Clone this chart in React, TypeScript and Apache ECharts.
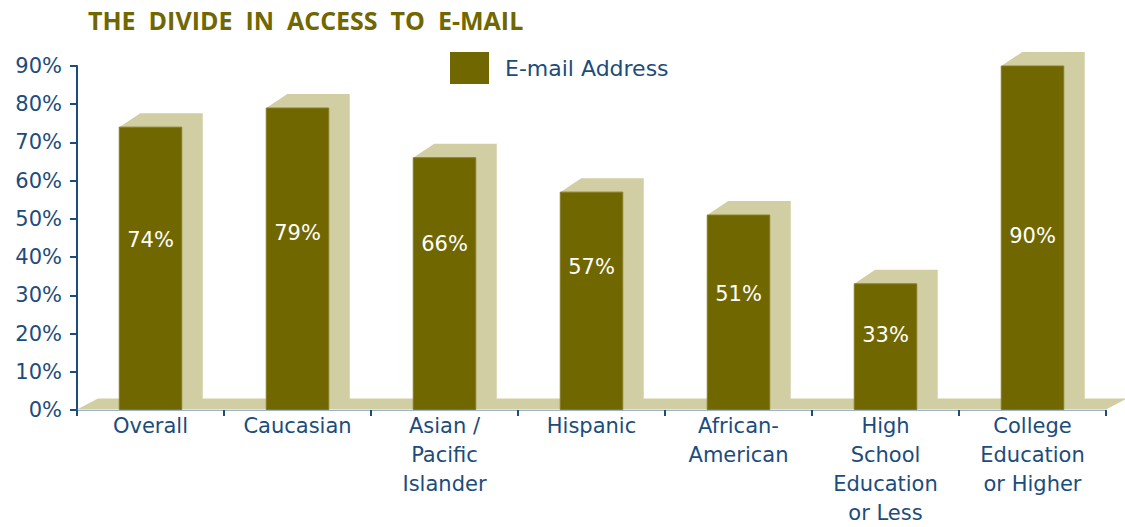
import React, { useEffect, useRef } from "react";
import * as echarts from "echarts";

const categories = [
  "Overall",
  "Caucasian",
  "Asian /\nPacific\nIslander",
  "Hispanic",
  "African-\nAmerican",
  "High\nSchool\nEducation\nor Less",
  "College\nEducation\nor Higher",
];
const emailValues = [74, 79, 66, 57, 51, 33, 90];
// height (in % units) at which each value label sits inside its bar
const labelLevels = [44.6, 46.4, 43.3, 37.5, 30.3, 19.6, 45.4];
const yTicks = { min: 0, max: 90, interval: 10 };
const seriesName = "E-mail Address";
const titleText = "THE  DIVIDE  IN  ACCESS  TO  E-MAIL";

const OLIVE = "#706700";
const BEIGE = "#d1cea4";
const BLUE = "#1c4c7c";
const FONT = "'DejaVu Sans', sans-serif";
const TITLE_FONT = "'Open Sans', 'Noto Sans', sans-serif";

export default function App() {
  const ref = useRef<HTMLDivElement>(null);
  useEffect(() => {
    if (!ref.current) return;
    const chart = echarts.init(ref.current, undefined, { renderer: "svg" });
    const DX = 21;
    const DY = -14;
    const option: any = {
      animation: false,
      backgroundColor: "#ffffff",
      title: {
        text: titleText,
        left: 83,
        top: 2,
        textStyle: {
          color: OLIVE,
          fontFamily: TITLE_FONT,
          fontWeight: "bold",
          fontSize: 25,
        },
      },
      legend: {
        left: 445,
        top: 47,
        itemWidth: 39,
        itemHeight: 32,
        data: [{ name: seriesName, icon: "rect", itemStyle: { color: OLIVE } }],
        textStyle: {
          color: BLUE,
          fontFamily: FONT,
          fontSize: 22,
          padding: [0, 0, 0, 11],
        },
      },
      grid: { left: 77, right: 19, top: 66, bottom: 116, containLabel: false },
      xAxis: {
        type: "category",
        data: categories,
        axisLine: { show: true, lineStyle: { color: "#9db4c8", width: 1 } },
        axisTick: { show: true, length: 6, lineStyle: { color: BLUE, width: 2 } },
        axisLabel: {
          interval: 0,
          color: BLUE,
          fontFamily: FONT,
          fontSize: 21,
          lineHeight: 29,
          margin: 1,
        },
        splitLine: { show: false },
      },
      yAxis: {
        type: "value",
        min: yTicks.min,
        max: yTicks.max,
        interval: yTicks.interval,
        axisLine: { show: true, lineStyle: { color: BLUE, width: 2 } },
        axisTick: { show: true, length: 7, lineStyle: { color: BLUE, width: 2 } },
        axisLabel: {
          formatter: "{value}%",
          color: BLUE,
          fontFamily: FONT,
          fontSize: 21,
          margin: 15,
        },
        splitLine: { show: false },
      },
      series: [
        {
          type: "custom",
          name: "floor",
          z: 1,
          silent: true,
          data: [[0]],
          renderItem: (params: any, api: any) => {
            const cs = params.coordSys;
            const yb = cs.y + cs.height - 0.5;
            const yt = yb - 11;
            return {
              type: "polygon",
              shape: {
                points: [
                  [cs.x, yb],
                  [cs.x + cs.width, yb],
                  [cs.x + cs.width + DX, yt],
                  [cs.x + DX, yt],
                ],
              },
              style: { fill: BEIGE },
            };
          },
        },
        {
          type: "custom",
          name: seriesName,
          z: 2,
          itemStyle: { color: OLIVE },
          data: emailValues.map((v, i) => [i, v, labelLevels[i]]),
          encode: { x: 0, y: 1 },
          renderItem: (params: any, api: any) => {
            const idx = api.value(0);
            const v = api.value(1);
            const lv = api.value(2);
            const top = api.coord([idx, v]);
            const base = api.coord([idx, 0]);
            const lab = api.coord([idx, lv]);
            const bw = api.size([1, 0])[0] * 0.425;
            const x0 = top[0] - bw / 2;
            const x1 = top[0] + bw / 2;
            const yt = top[1];
            const y0 = base[1] - 0.5;
            return {
              type: "group",
              children: [
                {
                  type: "polygon",
                  shape: {
                    points: [
                      [x0, yt],
                      [x0 + DX, yt + DY],
                      [x1 + DX, yt + DY],
                      [x1 + DX, y0 - 11],
                      [x1, y0],
                    ],
                  },
                  style: { fill: BEIGE },
                },
                {
                  type: "rect",
                  shape: { x: x0, y: yt, width: bw, height: y0 - yt },
                  style: { fill: OLIVE, stroke: "#857b22", lineWidth: 1 },
                },
                {
                  type: "text",
                  x: top[0],
                  y: lab[1],
                  style: {
                    text: v + "%",
                    fill: "#ffffff",
                    fontFamily: FONT,
                    fontSize: 21,
                    align: "center",
                    verticalAlign: "middle",
                  },
                },
              ],
            };
          },
        },
      ],
    };
    chart.setOption(option);
    return () => chart.dispose();
  }, []);
  return (
    <div
      ref={ref}
      style={{ position: "absolute", left: 0, top: 0, width: 1125, height: 527 }}
    />
  );
}
